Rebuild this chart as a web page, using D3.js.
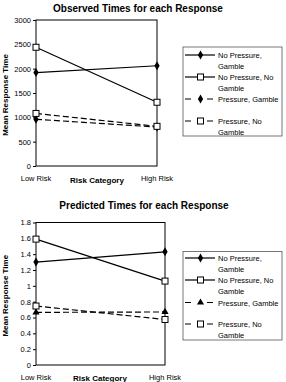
<!DOCTYPE html>
<html>
<head>
<meta charset="utf-8">
<script src="https://cdn.jsdelivr.net/npm/d3@7"></script>
<style>
  body { margin: 0; background: #fff; }
  svg { display: block; font-family: "Liberation Sans", Arial, sans-serif; }
</style>
</head>
<body>
<div id="chart"></div>
<script>
const categories = ["Low Risk", "High Risk"];
const seriesNames = ["No Pressure, Gamble", "No Pressure, No Gamble", "Pressure, Gamble", "Pressure, No Gamble"];
const legendLines = [["No Pressure,", "Gamble"], ["No Pressure, No", "Gamble"], ["Pressure, Gamble"], ["Pressure, No", "Gamble"]];

const observedNPG = [1920, 2060];
const observedNPNG = [2440, 1310];
const observedPG = [960, 800];
const observedPNG = [1080, 815];
const observedTicks = [0, 500, 1000, 1500, 2000, 2500, 3000];

const predictedNPG = [1.30, 1.43];
const predictedNPNG = [1.59, 1.06];
const predictedPG = [0.665, 0.67];
const predictedPNG = [0.745, 0.575];
const predictedTicks = [0, 0.2, 0.4, 0.6, 0.8, 1, 1.2, 1.4, 1.6, 1.8];

const svg = d3.select("#chart").append("svg").attr("width", 286).attr("height", 382);

function drawPanel(cfg) {
  const x = d3.scalePoint(categories, [cfg.left, cfg.right]);
  const y = d3.scaleLinear([0, cfg.max], [cfg.bottom, cfg.top]);
  const g = svg.append("g");

  g.append("text")
    .attr("x", cfg.titleX).attr("y", cfg.titleY)
    .attr("text-anchor", "middle")
    .attr("font-size", 10).attr("font-weight", "bold")
    .text(cfg.title);

  // frame
  g.append("rect")
    .attr("x", cfg.left).attr("y", cfg.top)
    .attr("width", cfg.right - cfg.left).attr("height", cfg.bottom - cfg.top)
    .attr("fill", "none").attr("stroke", "#000").attr("stroke-width", 1);

  // y axis
  g.append("g")
    .attr("transform", `translate(${cfg.left},0)`)
    .call(d3.axisLeft(y).tickValues(cfg.ticks).tickSize(3).tickPadding(2).tickFormat(d3.format("")))
    .call((a) => a.select(".domain").remove())
    .call((a) => a.selectAll("text").attr("font-size", 7.5).attr("font-family", "Liberation Sans, Arial, sans-serif").attr("fill", "#000"));

  // x labels
  g.selectAll(".xl").data(categories).join("text")
    .attr("x", (d) => x(d)).attr("y", cfg.xLabelY)
    .attr("text-anchor", "middle").attr("font-size", 7.5)
    .text((d) => d);

  g.append("text")
    .attr("x", cfg.xTitleX).attr("y", cfg.xTitleY)
    .attr("text-anchor", "middle").attr("font-size", 8).attr("font-weight", "bold")
    .text("Risk Category");

  g.append("text")
    .attr("transform", `translate(${cfg.yTitleX},${(cfg.top + cfg.bottom) / 2 + 2}) rotate(-90)`)
    .attr("text-anchor", "middle").attr("font-size", 8).attr("font-weight", "bold")
    .text("Mean Response Time");

  const line = d3.line().x((d, i) => x(categories[i])).y((d) => y(d));

  cfg.series.forEach((s, k) => {
    g.append("path")
      .attr("d", line(s))
      .attr("fill", "none").attr("stroke", "#000").attr("stroke-width", 1.2)
      .attr("stroke-dasharray", k >= 2 ? "6,3" : null);
  });
  cfg.series.forEach((s, k) => {
    s.forEach((v, i) => drawMarker(g, cfg.markers[k], x(categories[i]), y(v)));
  });

  // legend
  const L = cfg.legend;
  const lg = g.append("g");
  L.rows.forEach((ry, k) => {
    lg.append("line")
      .attr("x1", 185).attr("x2", 215).attr("y1", ry).attr("y2", ry)
      .attr("stroke", "#000").attr("stroke-width", 1.2)
      .attr("stroke-dasharray", k >= 2 ? "6,16" : null);
    drawMarker(lg, cfg.markers[k], 200.5, ry);
    legendLines[k].forEach((t, j) => {
      lg.append("text")
        .attr("x", 218).attr("y", ry + 3 + j * 10.5)
        .attr("font-size", 7.5).text(t);
    });
  });
  lg.append("rect")
    .attr("x", L.x0).attr("y", L.y0).attr("width", L.x1 - L.x0).attr("height", L.y1 - L.y0)
    .attr("fill", "none").attr("stroke", "#555").attr("stroke-width", 0.8);
}

function drawMarker(g, type, cx, cy) {
  if (type === "diamond") {
    g.append("path").attr("d", d3.symbol(d3.symbolDiamond, 24)())
      .attr("transform", `translate(${cx},${cy})`).attr("fill", "#000");
  } else if (type === "square") {
    g.append("rect").attr("x", cx - 3).attr("y", cy - 3).attr("width", 6).attr("height", 6)
      .attr("fill", "#fff").attr("stroke", "#000").attr("stroke-width", 1);
  } else if (type === "triangle") {
    g.append("path").attr("d", d3.symbol(d3.symbolTriangle, 22)())
      .attr("transform", `translate(${cx},${cy})`).attr("fill", "#000");
  }
}

drawPanel({
  id: "a",
  title: "Observed Times for each Response", titleX: 138, titleY: 12,
  left: 36, right: 157, top: 20, bottom: 166, max: 3000, ticks: observedTicks,
  xLabelY: 181, xTitleX: 97, xTitleY: 183, yTitleX: 8,
  series: [observedNPG, observedNPNG, observedPG, observedPNG],
  markers: ["diamond", "square", "diamond", "square"],
  legend: { x0: 183, x1: 282, y0: 47, y1: 136, rows: [55, 77, 99, 121] }
});

drawPanel({
  id: "b",
  title: "Predicted Times for each Response", titleX: 144, titleY: 209,
  left: 36, right: 165, top: 222.5, bottom: 365, max: 1.8, ticks: predictedTicks,
  xLabelY: 380, xTitleX: 100, xTitleY: 381, yTitleX: 8,
  series: [predictedNPG, predictedNPNG, predictedPG, predictedPNG],
  markers: ["diamond", "square", "triangle", "square"],
  legend: { x0: 183, x1: 282, y0: 251.5, y1: 340, rows: [258, 280, 302.5, 324] }
});
</script>
</body>
</html>
